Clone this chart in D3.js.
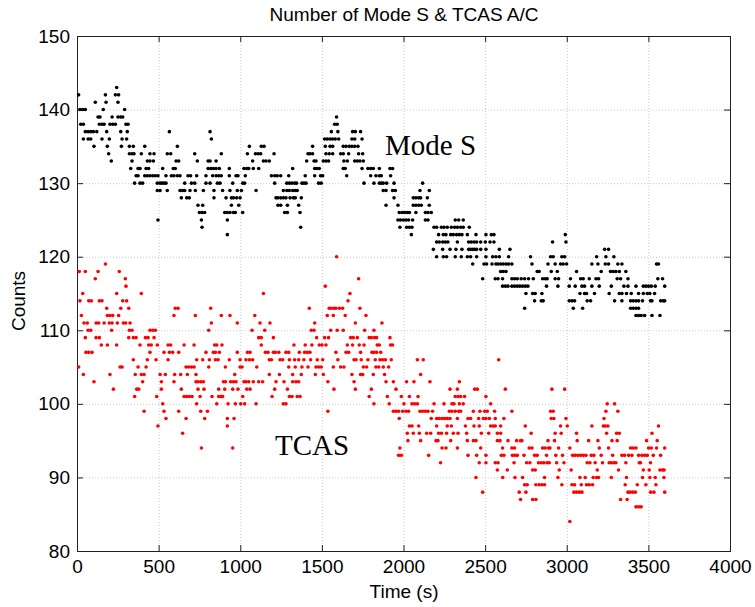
<!DOCTYPE html>
<html>
<head>
<meta charset="utf-8">
<script src="https://d3js.org/d3.v7.min.js"></script>
<style>
body { margin: 0; background: #fff; }
svg text { font-family: "Liberation Sans", Arial, sans-serif; }
</style>
</head>
<body>
<div id="chart"></div>
<script>
var xTicks = [0, 500, 1000, 1500, 2000, 2500, 3000, 3500, 4000];
var yTicks = [80, 90, 100, 110, 120, 130, 140, 150];

// Mode S counts: each level with the times (s) at which it was seen
var modeSLevels = [143, 142, 141, 140, 139, 138, 137, 136, 135, 134, 133, 132, 131, 130, 129, 128,
                   127, 126, 125, 124, 123, 122, 121, 120, 119, 118, 117, 116, 115, 114, 113, 112];
var modeSTimes = [
  [243],
  [10, 174, 235, 255],
  [112, 178, 251],
  [18, 35, 51, 161, 292],
  [129, 141, 215, 251, 268, 280, 1590],
  [23, 39, 137, 153, 166, 202, 219, 235, 300, 313, 1578, 1594],
  [51, 68, 84, 100, 121, 182, 268, 308, 566, 815, 1558, 1598, 1688, 1705, 1737],
  [39, 68, 84, 153, 198, 276, 304, 823, 1517, 1533, 1550, 1566, 1582, 1603, 1684, 1701, 1746],
  [104, 186, 272, 321, 345, 415, 615, 1056, 1129, 1146, 1443, 1521, 1550, 1566, 1631, 1648, 1668, 1684, 1701, 1721],
  [194, 321, 337, 349, 394, 447, 472, 553, 574, 721, 884, 1044, 1093, 1109, 1125, 1207, 1415, 1427, 1443, 1525,
   1545, 1566, 1615, 1631, 1664, 1725, 1750],
  [210, 337, 431, 447, 468, 607, 623, 737, 803, 815, 852, 1076, 1142, 1158, 1178, 1407, 1452, 1464, 1509, 1525,
   1541, 1635, 1656, 1701, 1717, 1733, 1754],
  [329, 374, 386, 423, 439, 525, 590, 602, 803, 819, 835, 852, 872, 933, 1023, 1040, 1052, 1080, 1113, 1321,
   1456, 1468, 1484, 1631, 1643, 1746, 1782, 1799, 1815, 1852, 1917, 1933],
  [362, 374, 415, 431, 447, 464, 480, 496, 545, 578, 594, 615, 631, 680, 696, 733, 790, 831, 852, 868,
   884, 933, 974, 986, 1031, 1191, 1211, 1227, 1248, 1297, 1398, 1456, 1492, 1505, 1652, 1799, 1831, 1852, 1864, 1921],
  [353, 386, 402, 492, 509, 521, 533, 545, 660, 701, 721, 790, 815, 860, 876, 954, 1015, 1027, 1211, 1285,
   1301, 1317, 1334, 1345, 1378, 1390, 1403, 1480, 1496, 1758, 1819, 1852, 1864, 1876, 1897, 1942, 2117],
  [492, 509, 553, 631, 647, 660, 692, 725, 774, 839, 892, 937, 982, 1007, 1097, 1264, 1285, 1301, 1321, 1337,
   1349, 1876, 1893, 1933, 1950, 2101, 2158],
  [639, 672, 688, 839, 913, 946, 958, 978, 999, 1219, 1231, 1248, 1264, 1280, 1305, 1325, 1337, 1374, 1942, 2060,
   2076, 2093, 2105, 2146],
  [741, 770, 946, 991, 1231, 1248, 1289, 1358, 1893, 1966, 2060, 2076, 2093, 2109, 2158],
  [750, 766, 782, 905, 921, 937, 958, 970, 1015, 1272, 1289, 1366, 1974, 1991, 2007, 2023, 2036, 2076, 2134, 2150, 2170],
  [496, 762, 921, 1966, 1982, 1999, 2015, 2031, 2056, 2134, 2150, 2317, 2338, 2366],
  [766, 1370, 1978, 2019, 2036, 2052, 2187, 2203, 2232, 2248, 2268, 2293, 2313, 2330, 2350, 2366, 2403],
  [921, 2048, 2215, 2244, 2260, 2289, 2305, 2325, 2342, 2358, 2391, 2444, 2505, 2538, 2554, 2991],
  [2203, 2219, 2240, 2256, 2272, 2330, 2399, 2415, 2432, 2448, 2473, 2501, 2530, 2554, 2913, 2995],
  [2183, 2240, 2285, 2321, 2358, 2399, 2411, 2424, 2436, 2448, 2473, 2505, 2587, 2652, 3232, 3256],
  [2203, 2244, 2264, 2317, 2354, 2391, 2411, 2448, 2505, 2546, 2566, 2587, 2644, 2778, 2901, 2917, 2970, 2987,
   3183, 3240, 3289],
  [2424, 2493, 2509, 2542, 2566, 2579, 2595, 2611, 2628, 2644, 2664, 2787, 2885, 2929, 2962, 2978, 2999, 3154,
   3191, 3236, 3256, 3313, 3338, 3550, 3562],
  [2595, 2611, 2628, 2819, 2831, 2905, 2942, 3060, 3211, 3268, 3285, 3301, 3322, 3362],
  [2485, 2562, 2579, 2607, 2664, 2680, 2697, 2721, 2742, 2766, 2795, 2852, 2868, 2880, 2929, 2950, 3023, 3085,
   3101, 3138, 3179, 3195, 3309, 3330, 3375, 3558, 3587],
  [2607, 2624, 2640, 2664, 2680, 2697, 2713, 2729, 2746, 2762, 2876, 2946, 3015, 3052, 3093, 3109, 3154, 3199,
   3273, 3350, 3375, 3424, 3469, 3485, 3501, 3518, 3542, 3600],
  [2750, 2791, 2807, 2848, 3081, 3109, 3121, 3170, 3260, 3322, 3338, 3366, 3395, 3440, 3469, 3493, 3509, 3538],
  [2803, 2844, 2856, 3015, 3032, 3048, 3125, 3146, 3293, 3338, 3391, 3407, 3424, 3440, 3464, 3513, 3522, 3575,
   3591, 3600],
  [2742, 3040, 3097, 3391, 3407, 3424, 3440],
  [3424, 3440, 3456, 3477, 3522, 3571]
];

// TCAS counts, same layout
var tcasLevels = [120, 119, 118, 117, 116, 115, 114, 113, 112, 111, 110, 109, 108, 107, 106, 105, 104, 103,
                  102, 101, 100, 99, 98, 97, 96, 95, 94, 93, 92, 91, 90, 89, 88, 87, 86, 84];
var tcasTimes = [
  [1590],
  [174],
  [14, 51, 129, 259],
  [112, 296, 1725],
  [300, 1521],
  [35, 243, 394, 1142, 1672],
  [18, 72, 88, 137, 153, 280, 304, 1660],
  [182, 268, 317, 602, 619, 819, 1423, 1545, 1558, 1574, 1586, 1607, 1627, 1733],
  [27, 186, 202, 219, 255, 594, 725, 884, 937, 1089, 1533, 1570, 1643, 1770],
  [43, 63, 117, 133, 166, 198, 215, 247, 284, 298, 325, 823, 982, 1121, 1182, 1456, 1705, 1868],
  [68, 84, 212, 321, 337, 447, 464, 480, 807, 1072, 1150, 1435, 1452, 1554, 1594, 1631, 1762, 1819],
  [51, 117, 137, 317, 345, 362, 419, 435, 472, 1113, 1129, 1203, 1468, 1517, 1541, 1676, 1692, 1717, 1790,
   1803, 1823, 1835, 1917],
  [149, 186, 243, 386, 439, 455, 492, 558, 574, 656, 717, 843, 856, 888, 1129, 1329, 1398, 1439, 1484, 1501,
   1525, 1656, 1688, 1729, 1758, 1839, 1852, 1921, 1933],
  [55, 72, 92, 447, 533, 566, 586, 623, 790, 835, 848, 872, 982, 1044, 1060, 1154, 1170, 1203, 1215, 1236,
   1280, 1297, 1362, 1394, 1411, 1427, 1586, 1648, 1664, 1737, 1807, 1819, 1835, 1860],
  [345, 431, 484, 558, 733, 770, 811, 848, 864, 933, 999, 1035, 1056, 1076, 1178, 1191, 1244, 1260, 1301, 1333,
   1358, 1390, 1431, 1472, 1505, 1598, 1697, 1709, 1741, 1782, 1827, 1856, 1872, 1889, 1925, 2085, 2121, 2583],
  [10, 264, 276, 374, 423, 668, 684, 701, 717, 807, 909, 999, 1011, 1101, 1297, 1337, 1378, 1415, 1464, 1480,
   1496, 1570, 1615, 1635, 1754, 1774, 1831, 1848, 1876, 1909],
  [39, 202, 357, 394, 411, 509, 541, 598, 635, 676, 729, 966, 1178, 1240, 1321, 1374, 1460, 1509, 1684, 1737,
   1750, 1815, 1884, 2105],
  [104, 402, 517, 594, 729, 741, 758, 774, 897, 909, 941, 958, 974, 1023, 1035, 1052, 1080, 1113, 1137, 1219,
   1268, 1321, 1341, 1358, 1537, 1697, 1893, 1938, 2019, 2064, 2162, 2342],
  [223, 366, 378, 517, 639, 741, 778, 868, 905, 954, 986, 1040, 1060, 1211, 1289, 1574, 1705, 1803, 1954, 2285,
   2330, 2436, 2452, 2624, 2909, 2987],
  [353, 488, 656, 672, 688, 705, 754, 827, 868, 880, 892, 1015, 1195, 1301, 1317, 1349, 1366, 1790, 1901, 1987,
   2036, 2089, 2317, 2334, 2350, 2374, 2505],
  [525, 733, 856, 925, 970, 1003, 1027, 1097, 1264, 1280, 1819, 1913, 2003, 2052, 2068, 2085, 2187, 2248, 2297,
   2309, 2342, 2366, 2534, 3248, 3293],
  [411, 533, 623, 758, 799, 1537, 1938, 1954, 1970, 1995, 2015, 2031, 2101, 2117, 2134, 2150, 2178, 2281, 2297,
   2317, 2338, 2350, 2428, 2468, 2497, 2513, 2558, 2664, 2901, 2917, 3240, 3313],
  [545, 668, 782, 921, 962, 1974, 2170, 2203, 2219, 2236, 2252, 2268, 2285, 2330, 2395, 2411, 2460, 2489, 2505,
   2526, 2562, 2615, 2905, 2921, 2995, 3228],
  [496, 921, 2036, 2052, 2093, 2203, 2268, 2293, 2379, 2432, 2464, 2534, 2550, 2562, 2595, 2746, 2962, 3003,
   3154, 3224, 3236, 3252, 3562],
  [647, 2023, 2060, 2097, 2142, 2166, 2215, 2232, 2264, 2305, 2334, 2387, 2477, 2522, 2575, 2595, 2782, 2929,
   2966, 3060, 3244, 3305, 3322, 3522],
  [2027, 2105, 2199, 2211, 2289, 2391, 2428, 2444, 2575, 2591, 2640, 2693, 2717, 2725, 2885, 2925, 3064, 3134,
   3191, 3277, 3309, 3489, 3554],
  [762, 954, 1978, 2236, 2260, 2330, 2473, 2607, 2664, 2680, 2770, 2787, 2852, 2868, 2889, 2897, 2950, 3019,
   3199, 3256, 3391, 3407, 3424, 3501, 3518, 3550, 3600],
  [1970, 1987, 2154, 2395, 2448, 2505, 2599, 2615, 2667, 2683, 2697, 2738, 2803, 2819, 2876, 2933, 2974, 3036,
   3052, 3068, 3085, 3101, 3117, 3150, 3166, 3211, 3281, 3338, 3354, 3379, 3399, 3440, 3460, 3477, 3493, 3530, 3575],
  [2227, 2464, 2505, 2562, 2579, 2677, 2754, 2774, 2827, 2844, 2860, 2880, 2893, 2938, 2983, 3125, 3142, 3174,
   3219, 3260, 3273, 3289, 3301, 3362, 3444, 3452, 3513],
  [2575, 2636, 2791, 2807, 2954, 3027, 3187, 3317, 3469, 3505, 3571, 3587, 3596],
  [2444, 2608, 2683, 2729, 2864, 2946, 3081, 3113, 3162, 3183, 3195, 3273, 3366, 3464, 3509, 3542, 3595],
  [2742, 2758, 2811, 2831, 2848, 2864, 2970, 3032, 3048, 3089, 3121, 3138, 3158, 3358, 3432, 3485, 3546],
  [2485, 2709, 2750, 3044, 3060, 3077, 3093, 3375, 3387, 3403, 3420, 3514, 3534, 3600],
  [2717, 2791, 2811, 3330, 3370],
  [3424, 3440, 3456],
  [3019]
];

function toPoints(levels, times) {
  var pts = [];
  levels.forEach(function(c, i) {
    times[i].forEach(function(t) { pts.push({t: t, c: c}); });
  });
  return pts;
}
var modeS = toPoints(modeSLevels, modeSTimes);
var tcas = toPoints(tcasLevels, tcasTimes);

var width = 755, height = 607;
var plotLeft = 77, plotRight = 730, plotTop = 36, plotBottom = 551;

var svg = d3.select("#chart")
  .append("svg")
  .attr("width", width)
  .attr("height", height)
  .style("background-color", "#fff");

var x = d3.scaleLinear().domain([0, 4000]).range([plotLeft, plotRight]);
var y = d3.scaleLinear().domain([80, 150]).range([plotBottom, plotTop]);

// dotted grid
var grid = svg.append("g").attr("stroke", "#c8c8c8").attr("stroke-dasharray", "1,2");
grid.selectAll(".gx").data(xTicks.slice(1, -1)).enter().append("line")
  .attr("x1", function(d) { return x(d) + 0.5; })
  .attr("x2", function(d) { return x(d) + 0.5; })
  .attr("y1", plotTop).attr("y2", plotBottom);
grid.selectAll(".gy").data(yTicks.slice(1, -1)).enter().append("line")
  .attr("y1", function(d) { return y(d) + 0.5; })
  .attr("y2", function(d) { return y(d) + 0.5; })
  .attr("x1", plotLeft).attr("x2", plotRight);

// axes, ticks pointing inward
var fmt = d3.format("d");
var xaxis = svg.append("g").attr("transform", "translate(0," + plotBottom + ")")
  .call(d3.axisBottom(x).tickValues(xTicks).tickFormat(fmt).tickSizeInner(-6).tickSizeOuter(0).tickPadding(9));
var xtop = svg.append("g").attr("transform", "translate(0," + plotTop + ")")
  .call(d3.axisTop(x).tickValues(xTicks).tickSizeInner(-6).tickSizeOuter(0).tickFormat(""));
var yaxis = svg.append("g").attr("transform", "translate(" + plotLeft + ",0)")
  .call(d3.axisLeft(y).tickValues(yTicks).tickFormat(fmt).tickSizeInner(-6).tickSizeOuter(0).tickPadding(7));
var yright = svg.append("g").attr("transform", "translate(" + plotRight + ",0)")
  .call(d3.axisRight(y).tickValues(yTicks).tickSizeInner(-6).tickSizeOuter(0).tickFormat(""));

[xaxis, xtop, yaxis, yright].forEach(function(g) {
  g.attr("color", "#222");
  g.select(".domain").remove();
  g.selectAll("text").style("font-size", "19px").attr("fill", "#000")
    .style("font-family", '"Liberation Sans", Arial, sans-serif');
});

svg.append("rect")
  .attr("x", plotLeft + 0.5).attr("y", plotTop + 0.5)
  .attr("width", plotRight - plotLeft).attr("height", plotBottom - plotTop)
  .attr("fill", "none").attr("stroke", "#222");

// points
svg.append("g").selectAll("circle").data(modeS).enter().append("circle")
  .attr("cx", function(d) { return x(d.t); })
  .attr("cy", function(d) { return y(d.c); })
  .attr("r", 1.8)
  .attr("fill", "#000");

svg.append("g").selectAll("circle").data(tcas).enter().append("circle")
  .attr("cx", function(d) { return x(d.t); })
  .attr("cy", function(d) { return y(d.c); })
  .attr("r", 1.8)
  .attr("fill", "#ff0000");

// labels
svg.append("text")
  .attr("x", 404).attr("y", 21)
  .attr("text-anchor", "middle")
  .style("font-size", "19px")
  .text("Number of Mode S & TCAS A/C");

svg.append("text")
  .attr("x", 404).attr("y", 598)
  .attr("text-anchor", "middle")
  .style("font-size", "19px")
  .text("Time (s)");

svg.append("text")
  .attr("transform", "translate(25,301) rotate(-90)")
  .attr("text-anchor", "middle")
  .style("font-size", "19px")
  .text("Counts");

svg.append("text")
  .attr("x", 385).attr("y", 155)
  .style("font-family", '"Liberation Serif", "Times New Roman", serif')
  .style("font-size", "29px")
  .text("Mode S");

svg.append("text")
  .attr("x", 275).attr("y", 455)
  .style("font-family", '"Liberation Serif", "Times New Roman", serif')
  .style("font-size", "29px")
  .text("TCAS");
</script>
</body>
</html>
